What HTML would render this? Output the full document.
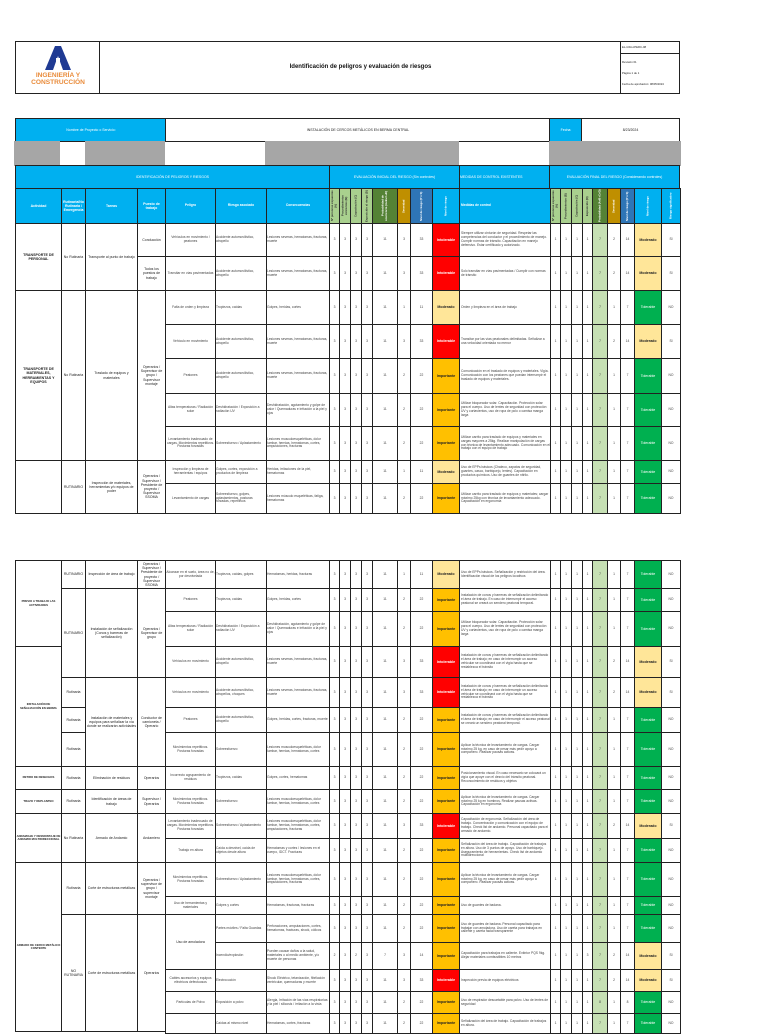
<!DOCTYPE html>
<html><head><meta charset="utf-8">
<style>
body{margin:0;width:768px;height:1024px;position:relative;overflow:hidden;background:#fff;font-family:"Liberation Sans",sans-serif;color:#222}
.x{position:absolute;box-sizing:border-box;border:1px solid #222;display:flex;align-items:center;justify-content:center;text-align:center;font-size:3.5px;line-height:1.2;overflow:hidden;background:#fff;z-index:2}
.bl{background:#00b0f0;color:#fff}
.gr{background:#a6a6a6}
.b{font-weight:bold}
.r{position:absolute;left:165px;width:515px;display:flex}
.r>i{font-style:normal;box-sizing:border-box;border:1px solid #222;margin-right:-1px;height:calc(100% + 1px);display:flex;align-items:center;justify-content:center;text-align:center;font-size:3.3px;line-height:1.2;overflow:hidden;color:#444;flex:none}
.r>i:nth-child(1){width:51px}.r>i:nth-child(2){width:52px;justify-content:flex-start;text-align:left}.r>i:nth-child(3){width:64px;justify-content:flex-start;text-align:left}
.r>i:nth-child(4){width:11px}.r>i:nth-child(5),.r>i:nth-child(6),.r>i:nth-child(7){width:12px}
.r>i:nth-child(8){width:26px}.r>i:nth-child(9){width:14px}.r>i:nth-child(10){width:23px}.r>i:nth-child(11){width:28px}
.r>i:nth-child(12){width:92px;justify-content:flex-start;text-align:left;padding-left:1px}
.r>i:nth-child(13){width:11px}.r>i:nth-child(14),.r>i:nth-child(15){width:12px}.r>i:nth-child(16){width:11px}
.r>i:nth-child(17){width:16px;background:#c6e0b4}.r>i:nth-child(18){width:14px}.r>i:nth-child(19){width:15px}.r>i:nth-child(20){width:28px}.r>i:nth-child(21){width:20px}
.r>i.I{background:#ff0000;color:#fff;font-weight:bold;font-size:3.6px}
.r>i.P{background:#ffc000;color:#222;font-weight:bold;font-size:3.6px}
.r>i.M{background:#ffe699;color:#222;font-weight:bold;font-size:3.6px}
.r>i.T{background:#00b050;color:#fff;font-size:3.6px}
.h>i{background:#00b0f0;color:#fff;font-weight:bold;font-size:3.3px}
.h>i.v{writing-mode:vertical-rl;transform:rotate(180deg);font-size:2.8px}
.h>i.lg{background:#a9d08e;color:#333}
.h>i.dg{background:#548235}
.h>i.go{background:#bf8f00}
.h>i.db{background:#2e75b6}
</style></head><body>

<!-- header -->
<div class="x" style="left:15px;top:41px;width:86px;height:53px;border-width:1.5px;flex-direction:column">
<svg width="26" height="24" viewBox="0 0 26 24" style="margin-top:-4px"><path d="M10 0h6l10 24h-8l-5-14-5 14h-8z" fill="#1f3a93"/><rect x="11" y="12" width="4" height="12" fill="#fff"/></svg>
<div style="color:#e98b3a;font-weight:bold;font-size:6.6px;line-height:7px;margin-top:2px">INGENIERÍA Y<br>CONSTRUCCIÓN</div></div>
<div class="x" style="left:99px;top:41px;width:523px;height:53px;border-width:1.5px;font-size:6px;font-weight:bold;color:#111">Identificación de peligros y evaluación de riesgos</div>
<div class="x" style="left:620px;top:41px;width:60px;height:14px;border-width:1.5px;justify-content:flex-start;padding-left:1px;font-size:2.8px">EL-GSG-IPERC-08</div>
<div class="x" style="left:620px;top:53px;width:60px;height:41px;border-width:1.5px;flex-direction:column;align-items:flex-start;justify-content:space-around;padding:3px 1px;font-size:2.8px"><span>Revisión 01</span><span>Página 1 de 1</span><span>Fecha de aprobación: 08/05/2024</span></div>

<!-- project row -->
<div class="x bl" style="left:15px;top:118px;width:152px;height:24px;border-width:1.5px;font-size:3.5px">Nombre de Proyecto o Servicio:</div>
<div class="x" style="left:165px;top:118px;width:386px;height:24px;border-width:1.5px;font-size:3.5px">INSTALACIÓN DE CERCOS METÁLICOS EN BERMA CENTRAL</div>
<div class="x bl" style="left:549px;top:118px;width:34px;height:24px;border-width:1.5px;font-size:3.5px">Fecha:</div>
<div class="x" style="left:581px;top:118px;width:99px;height:24px;border-width:1.5px;font-size:3.5px">8/23/2024</div>
<!-- gray row -->
<div class="x gr" style="left:14px;top:141px;width:46px;height:25px;border:0"></div>
<div class="x gr" style="left:85px;top:141px;width:80px;height:25px;border:0"></div>
<div class="x gr" style="left:265px;top:141px;width:194px;height:25px;border:0"></div>
<div class="x gr" style="left:549px;top:141px;width:132px;height:25px;border:0"></div>
<!-- section headers -->
<div class="x bl" style="left:15px;top:165px;width:315px;height:24px;border-width:1.5px">IDENTIFICACIÓN DE PELIGROS Y RIESGOS</div>
<div class="x bl" style="left:329px;top:165px;width:131px;height:24px;border-width:1.5px">EVALUACIÓN INICIAL DEL RIESGO (Sin controles)</div>
<div class="x bl" style="left:459px;top:165px;width:91px;height:24px;border-width:1.5px;justify-content:flex-start">MEDIDAS DE CONTROL EXISTENTES</div>
<div class="x bl" style="left:549px;top:165px;width:131px;height:24px;border-width:1.5px">EVALUACIÓN FINAL DEL RIESGO (Considerando controles)</div>
<!-- column headers -->
<div class="x bl b" style="left:15px;top:188px;width:47px;height:36px;border-width:1.5px">Actividad</div>
<div class="x bl b" style="left:61px;top:188px;width:25px;height:36px;border-width:1.5px">Rutinaria/No Rutinaria / Emergencia</div>
<div class="x bl b" style="left:85px;top:188px;width:53px;height:36px;border-width:1.5px">Tareas</div>
<div class="x bl b" style="left:137px;top:188px;width:29px;height:36px;border-width:1.5px">Puesto de trabajo</div>
<div class="r h" style="top:188px;height:35px"><i>Peligro</i><i style="justify-content:center">Riesgo asociado</i><i style="justify-content:center">Consecuencias</i><i class="v lg">Nº personas expuestas (A)</i><i class="v lg">Procedimientos existentes (B)</i><i class="v lg">Capacitación (C)</i><i class="v lg">Exposición al riesgo (D)</i><i class="v dg">Probabilidad de ocurrencia (A+B+C+D)</i><i class="v go">Severidad</i><i class="v db">Nivel de riesgo (P x S)</i><i class="v">Nivel de riesgo</i><i>Medidas de control</i><i class="v lg">Nº personas expuestas (A)</i><i class="v lg">Procedimientos (B)</i><i class="v lg">Capacitación (C)</i><i class="v lg">Exposición (D)</i><i class="v dg">Probabilidad (A+B+C+D)</i><i class="v go">Severidad</i><i class="v db">Nivel de riesgo (P x S)</i><i class="v">Nivel de riesgo</i><i class="v">Riesgo significativo</i></div>

<!-- PAGE 1 rows -->
<div class="r" style="top:223px;height:33px"><i>Vehículos en movimiento / peatones</i><i>Accidente automovilístico, atropello</i><i>Lesiones severas, hematomas, fracturas, muerte</i><i>3</i><i>3</i><i>3</i><i>3</i><i>11</i><i>3</i><i>33</i><i class="I">Intolerable</i><i>Siempre utilizar cinturón de seguridad. Respetar las competencias del conductor y el procedimiento de manejo. Cumplir normas de tránsito. Capacitación en manejo defensivo. Estar certificado y autorizado.</i><i>1</i><i>1</i><i>1</i><i>1</i><i>7</i><i>2</i><i>14</i><i class="M">Moderado</i><i>SI</i></div>
<div class="r" style="top:256px;height:34px"><i>Transitar en vías pavimentadas</i><i>Accidente automovilístico, atropello</i><i>Lesiones severas, hematomas, fracturas, muerte</i><i>3</i><i>3</i><i>3</i><i>3</i><i>11</i><i>3</i><i>33</i><i class="I">Intolerable</i><i>Solo transitar en vías pavimentadas / Cumplir con normas de tránsito</i><i>1</i><i>1</i><i>1</i><i>1</i><i>7</i><i>2</i><i>14</i><i class="M">Moderado</i><i>SI</i></div>
<div class="r" style="top:290px;height:34px"><i>Falta de orden y limpieza</i><i>Tropiezos, caídas</i><i>Golpes, heridas, cortes</i><i>3</i><i>3</i><i>3</i><i>3</i><i>11</i><i>1</i><i>11</i><i class="M">Moderado</i><i>Orden y limpieza en el área de trabajo</i><i>1</i><i>1</i><i>1</i><i>1</i><i>7</i><i>1</i><i>7</i><i class="T">Tolerable</i><i>NO</i></div>
<div class="r" style="top:324px;height:34px"><i>Vehículo en movimiento</i><i>Accidente automovilístico, atropello</i><i>Lesiones severas, hematomas, fracturas, muerte</i><i>3</i><i>3</i><i>3</i><i>3</i><i>11</i><i>3</i><i>33</i><i class="I">Intolerable</i><i>Transitar por las vías peatonales delimitadas. Señalizar a una velocidad orientada no menor</i><i>1</i><i>1</i><i>1</i><i>1</i><i>7</i><i>2</i><i>14</i><i class="M">Moderado</i><i>SI</i></div>
<div class="r" style="top:358px;height:35px"><i>Peatones</i><i>Accidente automovilístico, atropello</i><i>Lesiones severas, hematomas, fracturas, muerte</i><i>3</i><i>3</i><i>3</i><i>3</i><i>11</i><i>2</i><i>22</i><i class="P">Importante</i><i>Comunicación en el traslado de equipos y materiales. Vigía. Comunicación con los peatones que puedan interrumpir el traslado de equipos y materiales.</i><i>1</i><i>1</i><i>1</i><i>1</i><i>7</i><i>1</i><i>7</i><i class="T">Tolerable</i><i>NO</i></div>
<div class="r" style="top:393px;height:33px"><i>Altas temperaturas / Radiación solar</i><i>Deshidratación / Exposición a radiación UV</i><i>Deshidratación, agotamiento y golpe de calor / Quemaduras e irritación a la piel y ojos</i><i>3</i><i>3</i><i>3</i><i>3</i><i>11</i><i>2</i><i>22</i><i class="P">Importante</i><i>Utilizar bloqueador solar. Capacitación. Protección solar para el cuerpo. Uso de lentes de seguridad con protección UV y cortavientos, uso de ropa de polo o camisa manga larga</i><i>1</i><i>1</i><i>1</i><i>1</i><i>7</i><i>1</i><i>7</i><i class="T">Tolerable</i><i>NO</i></div>
<div class="r" style="top:426px;height:34px"><i>Levantamiento inadecuado de cargas. Movimientos repetitivos. Posturas forzadas</i><i>Sobreesfuerzo / Aplastamiento</i><i>Lesiones musculoesqueléticas, dolor lumbar, hernias, hematomas, cortes, amputaciones, fracturas</i><i>3</i><i>3</i><i>3</i><i>3</i><i>11</i><i>2</i><i>22</i><i class="P">Importante</i><i>Utilizar carrito para traslado de equipos y materiales en cargas mayores a 25kg. Realizar manipulación de cargas con técnica de levantamiento adecuado. Comunicación en el trabajo con el equipo de trabajo</i><i>1</i><i>1</i><i>1</i><i>1</i><i>7</i><i>1</i><i>7</i><i class="T">Tolerable</i><i>NO</i></div>
<div class="r" style="top:460px;height:23px"><i>Inspección y limpieza de herramientas / equipos</i><i>Golpes, cortes, exposición a productos de limpieza</i><i>Heridas, irritaciones de la piel, hematomas</i><i>3</i><i>3</i><i>3</i><i>3</i><i>11</i><i>1</i><i>11</i><i class="M">Moderado</i><i>Uso de EPPs básicos (Chaleco, zapatos de seguridad, guantes, casco, barbiquejo, lentes). Capacitación en productos químicos. Uso de guantes de nitrilo.</i><i>1</i><i>1</i><i>1</i><i>1</i><i>7</i><i>1</i><i>7</i><i class="T">Tolerable</i><i>NO</i></div>
<div class="r" style="top:483px;height:30px"><i>Levantamiento de cargas</i><i>Sobreesfuerzo, golpes, aplastamientos, posturas forzadas, repetitivos</i><i>Lesiones músculo esqueléticas, fatiga, hematomas</i><i>3</i><i>3</i><i>3</i><i>3</i><i>11</i><i>2</i><i>22</i><i class="P">Importante</i><i>Utilizar carrito para traslado de equipos y materiales; cargar máximo 25kg con técnica de levantamiento adecuado. Capacitación en ergonomía</i><i>1</i><i>1</i><i>1</i><i>1</i><i>7</i><i>1</i><i>7</i><i class="T">Tolerable</i><i>NO</i></div>

<!-- page1 left merged -->
<div class="x b" style="left:15px;top:223px;width:47px;height:68px;font-size:3.6px">TRANSPORTE DE PERSONAL</div>
<div class="x" style="left:61px;top:223px;width:25px;height:68px">No Rutinaria</div>
<div class="x" style="left:85px;top:223px;width:53px;height:68px">Transporte al punto de trabajo</div>
<div class="x" style="left:137px;top:223px;width:29px;height:34px">Conducción</div>
<div class="x" style="left:137px;top:256px;width:29px;height:35px">Todos los puestos de trabajo</div>
<div class="x b" style="left:15px;top:290px;width:47px;height:171px;font-size:3.6px">TRANSPORTE DE MATERIALES, HERRAMIENTAS Y EQUIPOS</div>
<div class="x" style="left:61px;top:290px;width:25px;height:171px">No Rutinaria</div>
<div class="x" style="left:85px;top:290px;width:53px;height:171px">Traslado de equipos y materiales</div>
<div class="x" style="left:137px;top:290px;width:29px;height:171px">Operarios / Supervisor de grupo / Supervisor montaje</div>
<div class="x" style="left:15px;top:460px;width:47px;height:54px"></div>
<div class="x" style="left:61px;top:460px;width:25px;height:54px">RUTINARIO</div>
<div class="x" style="left:85px;top:460px;width:53px;height:54px">Inspección de materiales, herramientas y/o equipos de poder</div>
<div class="x" style="left:137px;top:460px;width:29px;height:54px">Operarios / Supervisor / Presidente de proyecto / Supervisor SSOMA</div>

<!-- PAGE 2 rows -->
<div class="r" style="top:560px;height:28px"><i>Alcanzar en el suelo, área no de, por desnivelada</i><i>Tropiezos, caídas, golpes</i><i>Hematomas, heridas, fracturas</i><i>3</i><i>3</i><i>3</i><i>3</i><i>11</i><i>1</i><i>11</i><i class="M">Moderado</i><i>Uso de EPPs básicos. Señalización y restricción del área. Identificación visual de los peligros locativos</i><i>1</i><i>1</i><i>1</i><i>1</i><i>7</i><i>1</i><i>7</i><i class="T">Tolerable</i><i>NO</i></div>
<div class="r" style="top:588px;height:23px"><i>Peatones</i><i>Tropiezos, caídas</i><i>Golpes, heridas, cortes</i><i>3</i><i>3</i><i>3</i><i>3</i><i>11</i><i>2</i><i>22</i><i class="P">Importante</i><i>Instalación de conos y barreras de señalización delimitando el área de trabajo. En caso de interrumpir el acceso peatonal se creará un sendero peatonal temporal.</i><i>1</i><i>1</i><i>1</i><i>1</i><i>7</i><i>1</i><i>7</i><i class="T">Tolerable</i><i>NO</i></div>
<div class="r" style="top:611px;height:35px"><i>Altas temperaturas / Radiación solar</i><i>Deshidratación / Exposición a radiación UV</i><i>Deshidratación, agotamiento y golpe de calor / Quemaduras e irritación a la piel y ojos</i><i>3</i><i>3</i><i>3</i><i>3</i><i>11</i><i>2</i><i>22</i><i class="P">Importante</i><i>Utilizar bloqueador solar. Capacitación. Protección solar para el cuerpo. Uso de lentes de seguridad con protección UV y cortavientos, uso de ropa de polo o camisa manga larga</i><i>1</i><i>1</i><i>1</i><i>1</i><i>7</i><i>1</i><i>7</i><i class="T">Tolerable</i><i>NO</i></div>
<div class="r" style="top:646px;height:31px"><i>Vehículos en movimiento</i><i>Accidente automovilístico, atropello</i><i>Lesiones severas, hematomas, fracturas, muerte</i><i>3</i><i>3</i><i>3</i><i>3</i><i>11</i><i>3</i><i>33</i><i class="I">Intolerable</i><i>Instalación de conos y barreras de señalización delimitando el área de trabajo; en caso de interrumpir un acceso vehicular se coordinará con el vigía hasta que se restablezca el tránsito</i><i>1</i><i>1</i><i>1</i><i>1</i><i>7</i><i>2</i><i>14</i><i class="M">Moderado</i><i>SI</i></div>
<div class="r" style="top:677px;height:30px"><i>Vehículos en movimiento</i><i>Accidente automovilístico, atropellos, choques</i><i>Lesiones severas, hematomas, fracturas, muerte</i><i>3</i><i>3</i><i>3</i><i>3</i><i>11</i><i>3</i><i>33</i><i class="I">Intolerable</i><i>Instalación de conos y barreras de señalización delimitando el área de trabajo; en caso de interrumpir un acceso vehicular se coordinará con el vigía hasta que se restablezca el tránsito</i><i>1</i><i>1</i><i>1</i><i>1</i><i>7</i><i>2</i><i>14</i><i class="M">Moderado</i><i>SI</i></div>
<div class="r" style="top:707px;height:25px"><i>Peatones</i><i>Accidente automovilístico, atropello</i><i>Golpes, heridas, cortes, fracturas, muerte</i><i>3</i><i>3</i><i>3</i><i>3</i><i>11</i><i>2</i><i>22</i><i class="P">Importante</i><i>Instalación de conos y barreras de señalización delimitando el área de trabajo; en caso de interrumpir el acceso peatonal se creará un sendero peatonal temporal.</i><i>1</i><i>1</i><i>1</i><i>1</i><i>7</i><i>1</i><i>7</i><i class="T">Tolerable</i><i>NO</i></div>
<div class="r" style="top:732px;height:34px"><i>Movimientos repetitivos. Posturas forzadas</i><i>Sobreesfuerzo</i><i>Lesiones musculoesqueléticas, dolor lumbar, hernias, hematomas, cortes</i><i>3</i><i>3</i><i>3</i><i>3</i><i>11</i><i>2</i><i>22</i><i class="P">Importante</i><i>Aplicar la técnica de levantamiento de cargas. Cargar máximo 25 kg, en caso de pesar más pedir apoyo a compañero. Realizar pausas activas.</i><i>1</i><i>1</i><i>1</i><i>1</i><i>7</i><i>1</i><i>7</i><i class="T">Tolerable</i><i>NO</i></div>
<div class="r" style="top:766px;height:23px"><i>Incorrecto agrupamiento de residuos</i><i>Tropiezos, caídas</i><i>Golpes, cortes, hematomas</i><i>3</i><i>3</i><i>3</i><i>3</i><i>11</i><i>2</i><i>22</i><i class="P">Importante</i><i>Posicionamiento visual. En caso necesario se colocará un vigía que apoye con el desvío del tránsito peatonal. Reconocimiento de residuos y objetos</i><i>1</i><i>1</i><i>1</i><i>1</i><i>7</i><i>1</i><i>7</i><i class="T">Tolerable</i><i>NO</i></div>
<div class="r" style="top:789px;height:24px"><i>Movimientos repetitivos. Posturas forzadas</i><i>Sobreesfuerzo</i><i>Lesiones musculoesqueléticas, dolor lumbar, hernias, hematomas, cortes</i><i>3</i><i>3</i><i>3</i><i>3</i><i>11</i><i>2</i><i>22</i><i class="P">Importante</i><i>Aplicar la técnica de levantamiento de cargas. Cargar máximo 25 kg en hombros. Realizar pausas activas. Capacitación en ergonomía</i><i>1</i><i>1</i><i>1</i><i>1</i><i>7</i><i>1</i><i>7</i><i class="T">Tolerable</i><i>NO</i></div>
<div class="r" style="top:813px;height:25px"><i>Levantamiento inadecuado de cargas. Movimientos repetitivos. Posturas forzadas</i><i>Sobreesfuerzo / Aplastamiento</i><i>Lesiones musculoesqueléticas, dolor lumbar, hernias, hematomas, cortes, amputaciones, fracturas</i><i>3</i><i>3</i><i>3</i><i>3</i><i>11</i><i>3</i><i>33</i><i class="I">Intolerable</i><i>Capacitación de ergonomía. Señalización del área de trabajo. Concentración y comunicación con el equipo de trabajo. Check list de andamio. Personal capacitado para el armado de andamio.</i><i>1</i><i>1</i><i>1</i><i>1</i><i>7</i><i>2</i><i>14</i><i class="M">Moderado</i><i>SI</i></div>
<div class="r" style="top:838px;height:24px"><i>Trabajo en altura</i><i>Caída a desnivel, caída de objetos desde altura</i><i>Hematomas y cortes / lesiones en el cuerpo, IDCT. Fracturas</i><i>3</i><i>3</i><i>3</i><i>3</i><i>11</i><i>2</i><i>22</i><i class="P">Importante</i><i>Señalización del área de trabajo. Capacitación de trabajos en altura. Uso de 3 puntos de apoyo. Uso de barbiquejo. Aseguramiento de herramientas. Check list de andamio multidireccional</i><i>1</i><i>1</i><i>1</i><i>1</i><i>7</i><i>1</i><i>7</i><i class="T">Tolerable</i><i>NO</i></div>
<div class="r" style="top:862px;height:34px"><i>Movimientos repetitivos. Posturas forzadas</i><i>Sobreesfuerzo / Aplastamiento</i><i>Lesiones musculoesqueléticas, dolor lumbar, hernias, hematomas, cortes, amputaciones, fracturas</i><i>3</i><i>3</i><i>3</i><i>3</i><i>11</i><i>2</i><i>22</i><i class="P">Importante</i><i>Aplicar la técnica de levantamiento de cargas. Cargar máximo 25 kg, en caso de pesar más pedir apoyo a compañero. Realizar pausas activas.</i><i>1</i><i>1</i><i>1</i><i>1</i><i>7</i><i>1</i><i>7</i><i class="T">Tolerable</i><i>NO</i></div>
<div class="r" style="top:896px;height:18px"><i>Uso de herramientas y materiales</i><i>Golpes y cortes</i><i>Hematomas, fracturas, fracturas</i><i>3</i><i>3</i><i>3</i><i>3</i><i>11</i><i>2</i><i>22</i><i class="P">Importante</i><i>Uso de guantes de badana.</i><i>1</i><i>1</i><i>1</i><i>1</i><i>7</i><i>1</i><i>7</i><i class="T">Tolerable</i><i>NO</i></div>
<div class="r" style="top:914px;height:28px"><i></i><i>Partes móviles / Falta Guardas</i><i>Perforaciones, amputaciones, cortes, hematomas, fracturas, shock, cólicos</i><i>3</i><i>3</i><i>3</i><i>3</i><i>11</i><i>2</i><i>22</i><i class="P">Importante</i><i>Uso de guantes de badana. Personal capacitado para trabajar con amoladora. Uso de careta para trabajos en caliente y careta facial transparente</i><i>1</i><i>1</i><i>1</i><i>1</i><i>7</i><i>1</i><i>7</i><i class="T">Tolerable</i><i>NO</i></div>
<div class="r" style="top:942px;height:27px"><i></i><i>Incendio/explosión</i><i>Pueden causar daños a la salud, materiales o al medio ambiente, y/o muerte de personas</i><i>2</i><i>3</i><i>2</i><i>3</i><i>7</i><i>3</i><i>14</i><i class="P">Importante</i><i>Capacitación para trabajos en caliente. Extintor PQS 9kg. Alejar materiales combustibles 10 metros</i><i>1</i><i>1</i><i>1</i><i>3</i><i>7</i><i>2</i><i>14</i><i class="M">Moderado</i><i>SI</i></div>
<div class="r" style="top:969px;height:22px"><i>Cables accesorios y equipos eléctricos defectuosos</i><i>Electrocución</i><i>Shock Eléctrico, tetanización, fibrilación ventricular, quemaduras y muerte</i><i>3</i><i>3</i><i>3</i><i>3</i><i>11</i><i>3</i><i>33</i><i class="I">Intolerable</i><i>Inspección previa de equipos eléctricos</i><i>1</i><i>1</i><i>1</i><i>1</i><i>7</i><i>2</i><i>14</i><i class="M">Moderado</i><i>SI</i></div>
<div class="r" style="top:991px;height:22px"><i>Partículas de Polvo</i><i>Exposición a polvo</i><i>Alergia, Irritación de las vías respiratorias y la piel / silicosis / irritación a la vista</i><i>3</i><i>3</i><i>3</i><i>3</i><i>11</i><i>2</i><i>22</i><i class="P">Importante</i><i>Uso de respirador descartable para polvo. Uso de lentes de seguridad</i><i>1</i><i>1</i><i>1</i><i>1</i><i>8</i><i>1</i><i>8</i><i class="T">Tolerable</i><i>NO</i></div>
<div class="r" style="top:1013px;height:20px"><i></i><i>Caídas al mismo nivel</i><i>Hematomas, cortes, fracturas</i><i>3</i><i>3</i><i>3</i><i>3</i><i>11</i><i>2</i><i>22</i><i class="P">Importante</i><i>Señalización del área de trabajo. Capacitación de trabajos en altura.</i><i>1</i><i>1</i><i>1</i><i>1</i><i>7</i><i>1</i><i>7</i><i class="T">Tolerable</i><i>NO</i></div>

<!-- page2 merged -->
<div class="x" style="left:165px;top:914px;width:51px;height:56px">Uso de amoladora</div>
<div class="x b" style="left:15px;top:560px;width:47px;height:87px;font-size:2.8px">PREVIO A TRABAJO LAS ACTIVIDADES</div>
<div class="x b" style="left:15px;top:646px;width:47px;height:121px;font-size:2.8px">INSTALACIÓN DE SEÑALIZACIÓN EN BERMA</div>
<div class="x b" style="left:15px;top:766px;width:47px;height:24px;font-size:2.8px">RETIRO DE DESECHOS</div>
<div class="x b" style="left:15px;top:789px;width:47px;height:25px;font-size:2.8px">TRAZO Y REPLANTEO</div>
<div class="x b" style="left:15px;top:813px;width:47px;height:50px;font-size:2.8px">ANDAMIAJE Y DESMONTAJE DE ANDAMIO MULTIDIRECCIONAL</div>
<div class="x b" style="left:15px;top:862px;width:47px;height:170px;font-size:2.8px">ARMADO DE CERCO METÁLICO CONTENTE</div>

<div class="x" style="left:61px;top:560px;width:25px;height:29px">RUTINARIO</div>
<div class="x" style="left:61px;top:588px;width:25px;height:90px">RUTINARIO</div>
<div class="x" style="left:61px;top:677px;width:25px;height:31px">Rutinaria</div>
<div class="x" style="left:61px;top:707px;width:25px;height:26px">Rutinaria</div>
<div class="x" style="left:61px;top:732px;width:25px;height:35px">Rutinaria</div>
<div class="x" style="left:61px;top:766px;width:25px;height:24px">Rutinaria</div>
<div class="x" style="left:61px;top:789px;width:25px;height:25px">Rutinaria</div>
<div class="x" style="left:61px;top:813px;width:25px;height:50px">No Rutinaria</div>
<div class="x" style="left:61px;top:862px;width:25px;height:53px">Rutinaria</div>
<div class="x" style="left:61px;top:914px;width:25px;height:118px">NO RUTINARIA</div>

<div class="x" style="left:85px;top:560px;width:53px;height:29px">Inspección de área de trabajo</div>
<div class="x" style="left:85px;top:588px;width:53px;height:90px">Instalación de señalización (Conos y barreras de señalización)</div>
<div class="x" style="left:85px;top:677px;width:53px;height:90px">Instalación de materiales y equipos para señalizar la vía donde se realizarán actividades</div>
<div class="x" style="left:85px;top:766px;width:53px;height:24px">Eliminación de residuos</div>
<div class="x" style="left:85px;top:789px;width:53px;height:25px">Identificación de áreas de trabajo</div>
<div class="x" style="left:85px;top:813px;width:53px;height:50px">Armado de Andamio</div>
<div class="x" style="left:85px;top:862px;width:53px;height:53px">Corte de estructuras metálicas</div>
<div class="x" style="left:85px;top:914px;width:53px;height:118px">Corte de estructuras metálicas</div>

<div class="x" style="left:137px;top:560px;width:29px;height:29px">Operarios / Supervisor / Presidente de proyecto / Supervisor SSOMA</div>
<div class="x" style="left:137px;top:588px;width:29px;height:90px">Operarios / Supervisor de grupo</div>
<div class="x" style="left:137px;top:677px;width:29px;height:90px">Conductor de camioneta / Operario</div>
<div class="x" style="left:137px;top:766px;width:29px;height:24px">Operarios</div>
<div class="x" style="left:137px;top:789px;width:29px;height:25px">Supervisor / Operarios</div>
<div class="x" style="left:137px;top:813px;width:29px;height:50px">Andamiero</div>
<div class="x" style="left:137px;top:862px;width:29px;height:53px">Operarios / supervisor de grupo / supervisor montaje</div>
<div class="x" style="left:137px;top:914px;width:29px;height:118px">Operarios</div>
</body></html>
